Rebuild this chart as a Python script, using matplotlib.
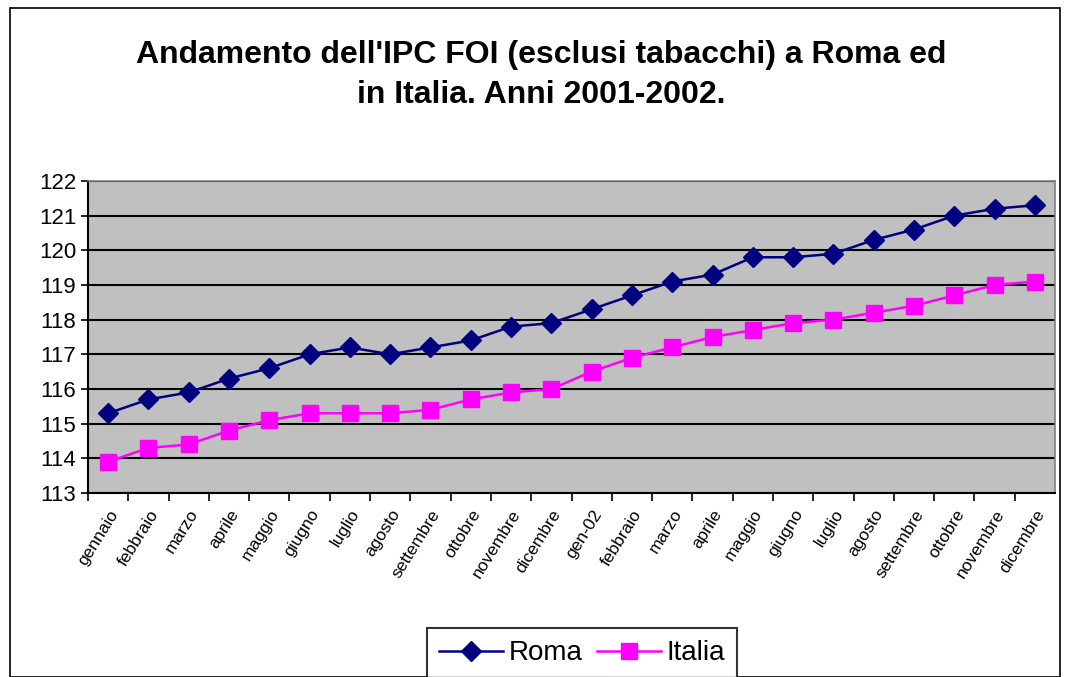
import numpy as np
import matplotlib
matplotlib.use("Agg")
import matplotlib.pyplot as plt
from matplotlib.patches import Rectangle

mesi = ['gennaio', 'febbraio', 'marzo', 'aprile', 'maggio', 'giugno', 'luglio',
        'agosto', 'settembre', 'ottobre', 'novembre', 'dicembre',
        'gen-02', 'febbraio', 'marzo', 'aprile', 'maggio', 'giugno', 'luglio',
        'agosto', 'settembre', 'ottobre', 'novembre', 'dicembre']

roma = [115.3, 115.7, 115.9, 116.3, 116.6, 117.0, 117.2, 117.0, 117.2, 117.4, 117.8, 117.9,
        118.3, 118.7, 119.1, 119.3, 119.8, 119.8, 119.9, 120.3, 120.6, 121.0, 121.2, 121.3]
italia = [113.9, 114.3, 114.4, 114.8, 115.1, 115.3, 115.3, 115.3, 115.4, 115.7, 115.9, 116.0,
          116.5, 116.9, 117.2, 117.5, 117.7, 117.9, 118.0, 118.2, 118.4, 118.7, 119.0, 119.1]

plt.rcParams['font.family'] = ['Liberation Sans', 'DejaVu Sans']

W, H = 1068, 677
fig = plt.figure(figsize=(W / 100, H / 100), dpi=100)
ax = fig.add_axes([88 / W, 1 - 493 / H, (1055 - 88) / W, (493 - 181) / H])

# outer chart border
fig.patches.append(Rectangle((10 / W, 0), (1060 - 10) / W, (H - 8) / H,
                             transform=fig.transFigure, fill=False,
                             edgecolor='black', linewidth=1.2))

x = np.arange(len(mesi))
ax.set_facecolor('#c0c0c0')
ax.plot(x, roma, color='#000080', marker='D', markersize=10, linewidth=1.8, label='Roma')
ax.plot(x, italia, color='#ff00ff', marker='s', markersize=11, linewidth=1.8, label='Italia')

ax.set_xlim(-0.5, len(mesi) - 0.5)
ax.set_ylim(113, 122)
ax.set_yticks(np.arange(113, 123, 1))
ax.yaxis.grid(True, color='black', linewidth=1.5)
ax.set_axisbelow(True)
ax.tick_params(axis='y', labelsize=16, direction='out', length=5, width=1.2)

ax.set_xticks(x - 0.5, minor=False)
ax.set_xticklabels([])
ax.set_xticks(x, minor=True)
ax.set_xticklabels(mesi, minor=True, rotation=58, ha='right', rotation_mode='anchor',
                   fontsize=12.5, family=['Liberation Sans Narrow', 'Liberation Sans'])
ax.tick_params(axis='x', which='major', direction='out', length=6, width=1.2)
ax.tick_params(axis='x', which='minor', length=0, pad=10)

for side in ['top', 'right']:
    ax.spines[side].set_color('#808080')
    ax.spines[side].set_linewidth(1.2)
for side in ['left', 'bottom']:
    ax.spines[side].set_color('black')
    ax.spines[side].set_linewidth(1.5)

fig.text(541 / W, 1 - 75 / H,
         "Andamento dell'IPC FOI (esclusi tabacchi) a Roma ed\nin Italia. Anni 2001-2002.",
         ha='center', va='center', fontsize=23, fontweight='bold', linespacing=1.4)

leg = fig.legend(loc='upper center', bbox_to_anchor=(582 / W, 1 - 628 / H), ncol=2,
                 fontsize=20, frameon=True, fancybox=False, edgecolor='black',
                 handlelength=2.3, columnspacing=0.5, handletextpad=0.2,
                 borderpad=0.45, borderaxespad=0)
leg.get_frame().set_linewidth(1.5)

fig.savefig('out.png', dpi=100)
